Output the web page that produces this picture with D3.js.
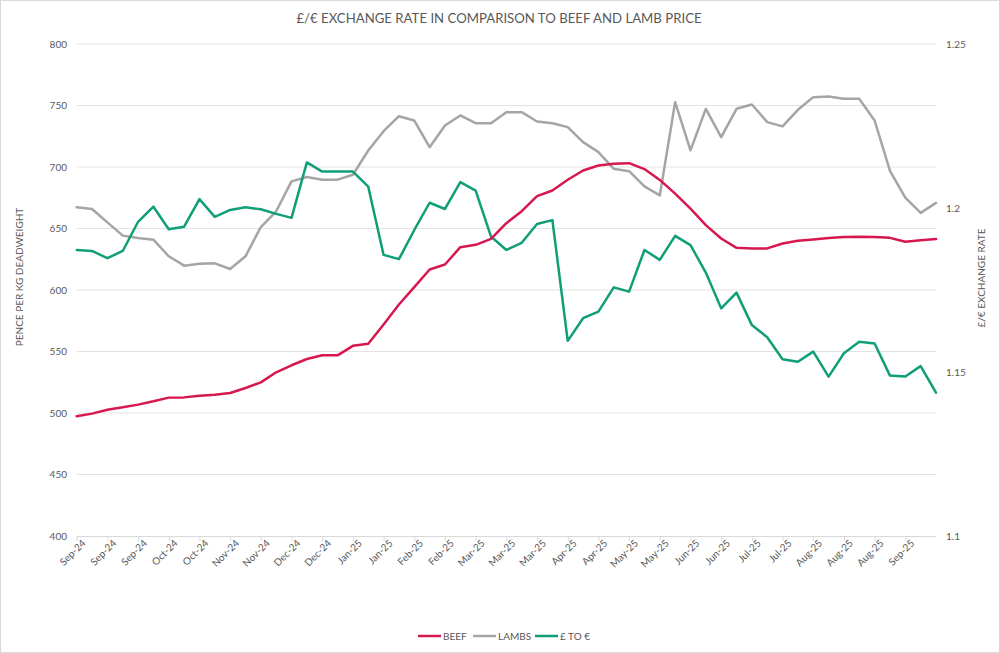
<!DOCTYPE html>
<html><head><meta charset="utf-8">
<script src="https://cdn.jsdelivr.net/npm/d3@7"></script>
<style>
body{margin:0;background:#fff;}
svg{display:block;font-family:Lato,"Open Sans",sans-serif;}
</style></head>
<body><svg id="c" width="1000" height="653"></svg>
<script>
const tickLabels = ["Sep-24","Sep-24","Sep-24","Oct-24","Oct-24","Nov-24","Nov-24","Dec-24","Dec-24","Jan-25","Jan-25","Feb-25","Feb-25","Mar-25","Mar-25","Mar-25","Apr-25","Apr-25","May-25","May-25","Jun-25","Jun-25","Jul-25","Jul-25","Aug-25","Aug-25","Aug-25","Sep-25"];
const beef = [497.3,499.5,502.7,504.6,506.8,509.5,512.5,512.7,514.1,514.9,516.3,520.3,524.9,533.1,538.8,543.9,546.9,546.9,554.6,556.3,572.0,588.2,602.3,616.7,620.7,634.8,636.7,641.6,654.3,664.1,676.3,680.9,689.6,697.2,701.2,702.6,703.1,698.3,689.5,678.4,666.2,652.7,641.9,634.3,633.8,633.8,637.8,640.0,641.1,642.2,643.0,643.2,643.0,642.4,639.2,640.5,641.4];
const lambs = [667.2,665.9,655.0,644.2,642.3,640.9,627.4,619.8,621.4,621.7,617.1,627.4,651.2,664.0,688.3,691.9,689.7,689.7,693.7,713.4,729.1,741.3,737.8,716.1,733.7,741.9,735.6,735.6,744.6,744.6,737.0,735.6,732.4,720.2,712.1,698.5,696.6,684.2,676.9,752.7,713.5,747.3,724.3,747.3,750.8,736.5,733.0,746.5,756.8,757.3,755.4,755.4,737.8,696.8,675.1,662.7,670.8];
const gbpEur = [1.1872,1.1869,1.1847,1.1869,1.1958,1.2004,1.1935,1.1943,1.2027,1.1973,1.1994,1.2002,1.1996,1.1982,1.1970,1.2139,1.2111,1.2111,1.2111,1.2065,1.1857,1.1844,1.1933,1.2016,1.1997,1.2079,1.2053,1.1913,1.1872,1.1894,1.1951,1.1963,1.1595,1.1664,1.1684,1.1758,1.1745,1.1872,1.1842,1.1915,1.1887,1.1803,1.1694,1.1742,1.1643,1.1606,1.1539,1.1531,1.1562,1.1486,1.1557,1.1592,1.1587,1.1489,1.1486,1.1518,1.1437];
const leftTicks = [400,450,500,550,600,650,700,750,800];
const rightTicks = [1.1,1.15,1.2,1.25];
const seriesNames = ["BEEF","LAMBS","£ TO €"];
const colors = ["#d7184f","#a5a5a5","#109e78"];

const svg = d3.select("#c");
const W=1000,H=653;
svg.append("rect").attr("x",0.5).attr("y",0.5).attr("width",W-1).attr("height",H-1).attr("fill","#fff").attr("stroke","#d9d9d9");

const x0=76.7,x1=936,yTop=44,yBot=536;
const x = d3.scaleLinear().domain([0,beef.length-1]).range([x0,x1]);
const yL = d3.scaleLinear().domain([400,800]).range([yBot,yTop]);
const yR = d3.scaleLinear().domain([1.1,1.25]).range([yBot,yTop]);
const txt="#595959";

// gridlines
svg.append("g").selectAll("line").data(leftTicks.slice(1)).join("line")
  .attr("x1",x0).attr("x2",x1).attr("y1",d=>yL(d)).attr("y2",d=>yL(d))
  .attr("stroke","#e3e3e3").attr("stroke-width",1);

// left axis labels
svg.append("g").selectAll("text").data(leftTicks).join("text")
  .attr("x",67).attr("y",d=>yL(d)).attr("dy","0.35em").attr("text-anchor","end")
  .attr("font-size",10).attr("fill",txt).text(d=>d);
// right axis labels
svg.append("g").selectAll("text").data(rightTicks).join("text")
  .attr("x",946).attr("y",d=>yR(d)).attr("dy","0.35em").attr("text-anchor","start")
  .attr("font-size",10).attr("fill",txt).text(d=>d);

// x axis
const xAxis = d3.axisBottom(x).tickValues(d3.range(0,tickLabels.length*2,2)).tickFormat(i=>tickLabels[i/2]).tickSize(5).tickSizeOuter(0);
const gx = svg.append("g").attr("transform",`translate(0,${yBot})`).call(xAxis);
gx.select(".domain").attr("stroke","#d9d9d9").attr("d",`M${x0},0.5H${x1}`);
gx.selectAll(".tick line").attr("stroke","#d9d9d9");
gx.selectAll(".tick text").attr("fill",txt).attr("font-size",10).attr("font-family","Lato,'Open Sans',sans-serif")
  .attr("text-anchor","end").attr("dx","0.1em").attr("dy","0.6em").attr("transform","rotate(-45)").attr("y",6).attr("x",0);

// lines
const lineL = d3.line().x((d,i)=>x(i)).y(d=>yL(d));
const lineR = d3.line().x((d,i)=>x(i)).y(d=>yR(d));
const g = svg.append("g").attr("fill","none").attr("stroke-width",2.5).attr("stroke-linejoin","round").attr("stroke-linecap","round");
g.append("path").attr("d",lineL(lambs)).attr("stroke",colors[1]);
g.append("path").attr("d",lineR(gbpEur)).attr("stroke",colors[2]);
g.append("path").attr("d",lineL(beef)).attr("stroke",colors[0]);

// title
svg.append("text").attr("x",499).attr("y",23).attr("text-anchor","middle").attr("font-size",13.2).attr("fill",txt)
  .text("£/€ EXCHANGE RATE IN COMPARISON TO BEEF AND LAMB PRICE");

// axis titles
svg.append("text").attr("transform","translate(23,277) rotate(-90)").attr("text-anchor","middle").attr("font-size",10).attr("fill",txt)
  .text("PENCE PER KG DEADWEIGHT");
svg.append("text").attr("transform","translate(985,278) rotate(-90)").attr("text-anchor","middle").attr("font-size",10).attr("fill",txt)
  .text("£/€ EXCHANGE RATE");

// legend
const legX=[418,473,535];
const lg = svg.append("g").selectAll("g").data(seriesNames).join("g").attr("transform",(d,i)=>`translate(${legX[i]},636)`);
lg.append("line").attr("x1",0).attr("x2",23).attr("stroke",(d,i)=>colors[i]).attr("stroke-width",2.5);
lg.append("text").attr("x",25).attr("dy","0.35em").attr("font-size",10).attr("fill",txt).text(d=>d);
</script></body></html>
